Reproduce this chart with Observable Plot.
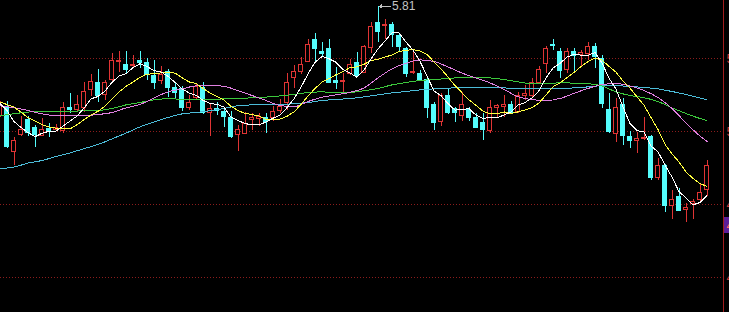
<!DOCTYPE html>
<html><head><meta charset="utf-8">
<script src="https://cdn.jsdelivr.net/npm/d3@7"></script>
<script src="https://cdn.jsdelivr.net/npm/@observablehq/plot@0.6"></script>
<style>
html,body{margin:0;padding:0;background:#000;overflow:hidden;}
#chart svg{display:block;}
</style></head><body><div id="chart"></div>
<script>
// Daily candles, index -1 (partly cut at the left edge) .. 100
const firstIndex = -1;
const open = [5.265,
  5.305,5.085,5.17,5.245,5.205,5.165,5.1975,5.195,5.19,5.305,
  5.295,5.305,5.395,5.43,5.37,5.445,5.5325,5.52,5.5125,5.54,
  5.53,5.465,5.44,5.485,5.405,5.40,5.305,5.355,5.405,5.2775,
  5.2975,5.285,5.255,5.17,5.175,5.245,5.25,5.255,5.2525,5.2875,
  5.33,5.455,5.485,5.5325,5.645,5.585,5.60,5.44,5.4325,5.475,
  5.53,5.48,5.605,5.73,5.7125,5.72,5.665,5.60,5.4775,5.475,
  5.445,5.32,5.235,5.3625,5.30,5.265,5.295,5.255,5.23,5.1875,
  5.305,5.3075,5.3175,5.285,5.365,5.365,5.43,5.525,5.62,5.585,
  5.495,5.585,5.57,5.575,5.61,5.55,5.295,5.175,5.32,5.1575,
  5.14,5.15,5.16,4.955,5.015,4.815,4.86,4.7925,4.8225,4.8425,
  4.895];
const high = [5.335,
  5.335,5.155,5.26,5.26,5.215,5.25,5.225,5.2225,5.33,5.375,
  5.365,5.43,5.47,5.495,5.44,5.575,5.585,5.585,5.565,5.585,
  5.55,5.54,5.51,5.495,5.425,5.41,5.365,5.42,5.43,5.32,
  5.33,5.305,5.285,5.215,5.28,5.275,5.275,5.275,5.31,5.345,
  5.475,5.515,5.555,5.645,5.675,5.63,5.645,5.505,5.475,5.545,
  5.58,5.615,5.73,5.81,5.745,5.73,5.675,5.605,5.59,5.49,
  5.45,5.33,5.375,5.395,5.305,5.38,5.305,5.275,5.275,5.34,
  5.32,5.365,5.335,5.38,5.415,5.45,5.51,5.61,5.645,5.60,
  5.60,5.60,5.59,5.63,5.625,5.565,5.375,5.35,5.35,5.185,
  5.18,5.255,5.165,5.05,5.02,4.89,4.90,4.825,4.845,4.92,
  5.04];
const low = [5.255,
  5.10,5.015,5.16,5.16,5.105,5.16,5.155,5.19,5.175,5.275,
  5.28,5.28,5.36,5.33,5.34,5.43,5.48,5.475,5.50,5.50,
  5.44,5.395,5.42,5.355,5.35,5.285,5.29,5.345,5.27,5.16,
  5.265,5.205,5.15,5.085,5.17,5.19,5.21,5.175,5.235,5.275,
  5.29,5.40,5.47,5.53,5.53,5.555,5.425,5.395,5.375,5.465,
  5.455,5.475,5.575,5.63,5.645,5.605,5.58,5.455,5.47,5.435,
  5.25,5.19,5.21,5.27,5.23,5.235,5.235,5.20,5.14,5.175,
  5.255,5.255,5.275,5.275,5.34,5.355,5.425,5.475,5.59,5.45,
  5.475,5.485,5.51,5.54,5.50,5.30,5.175,5.13,5.115,5.10,
  5.075,5.14,4.94,4.94,4.78,4.745,4.79,4.73,4.745,4.825,
  4.86];
const close = [5.32,
  5.11,5.14,5.195,5.18,5.17,5.195,5.1875,5.2025,5.305,5.295,
  5.32,5.385,5.435,5.365,5.43,5.54,5.5375,5.495,5.5175,5.53,
  5.47,5.43,5.4675,5.405,5.38,5.305,5.33,5.41,5.28,5.2975,
  5.2875,5.26,5.1575,5.195,5.225,5.2525,5.2575,5.235,5.285,5.31,
  5.43,5.485,5.52,5.62,5.60,5.575,5.43,5.43,5.4375,5.5175,
  5.465,5.61,5.71,5.685,5.7175,5.67,5.61,5.475,5.485,5.44,
  5.305,5.23,5.365,5.28,5.2775,5.32,5.2525,5.2025,5.195,5.305,
  5.315,5.3175,5.28,5.365,5.3725,5.43,5.495,5.60,5.6125,5.49,
  5.585,5.565,5.58,5.61,5.5575,5.325,5.185,5.305,5.165,5.14,
  5.1475,5.155,4.955,5.015,4.815,4.845,4.79,4.805,4.8325,4.8775,
  5.015];

// Moving averages read per candle (index -1 .. 100)
const ma5 = [5.325,
  5.29,5.235,5.205,5.18,5.159,5.176,5.186,5.187,5.212,5.237,
  5.262,5.302,5.348,5.36,5.387,5.431,5.462,5.474,5.504,5.524,
  5.51,5.489,5.483,5.461,5.431,5.398,5.378,5.366,5.341,5.325,
  5.321,5.307,5.257,5.24,5.225,5.218,5.218,5.233,5.251,5.268,
  5.304,5.349,5.406,5.473,5.531,5.56,5.549,5.531,5.495,5.478,
  5.456,5.492,5.548,5.598,5.638,5.679,5.679,5.632,5.592,5.536,
  5.463,5.387,5.365,5.324,5.292,5.295,5.299,5.267,5.25,5.255,
  5.254,5.267,5.283,5.317,5.33,5.353,5.389,5.453,5.502,5.526,
  5.557,5.571,5.567,5.566,5.58,5.528,5.452,5.397,5.308,5.224,
  5.189,5.183,5.113,5.083,5.018,4.957,4.884,4.854,4.818,4.83,
  4.864];
const ma10 = [5.332,
  5.32,5.307,5.282,5.254,5.237,5.22,5.207,5.202,5.202,5.198,
  5.219,5.244,5.268,5.286,5.312,5.347,5.382,5.411,5.432,5.456,
  5.471,5.475,5.478,5.482,5.477,5.454,5.433,5.425,5.401,5.378,
  5.359,5.342,5.311,5.29,5.275,5.27,5.262,5.245,5.245,5.247,
  5.261,5.283,5.32,5.362,5.4,5.432,5.449,5.469,5.484,5.505,
  5.508,5.521,5.54,5.546,5.558,5.567,5.585,5.59,5.595,5.587,
  5.571,5.533,5.498,5.458,5.414,5.379,5.343,5.316,5.287,5.273,
  5.274,5.283,5.275,5.283,5.293,5.304,5.328,5.368,5.409,5.428,
  5.455,5.48,5.51,5.534,5.553,5.542,5.511,5.482,5.437,5.402,
  5.358,5.317,5.255,5.195,5.121,5.073,5.033,4.983,4.95,4.924,
  4.911];

// Slower averages read every second candle
const maIdx = [-1,1,3,5,7,9,11,13,15,17,19,21,23,25,27,29,31,33,35,37,39,41,43,45,47,49,
  51,53,55,57,59,61,63,65,67,69,71,73,75,77,79,81,83,85,87,89,91,93,95,97,99,100];
const ma20 = [5.313,5.304,5.29,5.273,5.265,5.265,5.265,5.27,5.28,5.303,5.32,5.353,5.383,5.398,5.413,5.415,
  5.411,5.389,5.365,5.34,5.315,5.309,5.335,5.356,5.368,5.381,5.403,5.453,5.498,5.526,5.543,5.535,
  5.508,5.477,5.453,5.428,5.395,5.359,5.344,5.34,5.35,5.376,5.40,5.42,5.425,5.413,5.39,5.355,
  5.30,5.228,5.162,5.135];
const ma30 = [5.263,5.274,5.282,5.287,5.287,5.287,5.288,5.29,5.30,5.318,5.33,5.343,5.349,5.346,5.345,5.345,
  5.348,5.349,5.354,5.357,5.363,5.37,5.38,5.383,5.379,5.38,5.389,5.40,5.418,5.43,5.44,5.445,
  5.45,5.455,5.456,5.453,5.445,5.433,5.424,5.425,5.428,5.427,5.424,5.413,5.383,5.365,5.354,5.335,
  5.303,5.275,5.25,5.24];
const ma60 = [5.00,5.007,5.027,5.04,5.06,5.078,5.099,5.12,5.148,5.177,5.208,5.233,5.255,5.273,5.28,5.289,
  5.30,5.314,5.318,5.319,5.32,5.324,5.33,5.34,5.345,5.35,5.358,5.368,5.378,5.385,5.393,5.398,
  5.402,5.404,5.406,5.405,5.403,5.399,5.399,5.399,5.399,5.403,5.408,5.414,5.414,5.41,5.405,5.398,
  5.385,5.37,5.353,5.344];

// Price axis
const gridPrices = [5.55, 5.185, 4.82, 4.455];
const gridLabels = ["5.55", "5.19", "4.82", "4.46"];
const peak = [{i: 53, price: 5.81, label: "5.81"}];
const lastMark = [{price: 4.715, label: "4.72"}];

const UP = "#e03434", DOWN = "#54fcfc";
const xMin = -6.5 / 7, xMax = 716.5 / 7, bw = 2 / 7;

const candles = open.map((o, k) => ({i: k + firstIndex, open: o, high: high[k], low: low[k], close: close[k]}));
const ups = candles.filter(d => d.close >= d.open);
const downs = candles.filter(d => d.close < d.open);
const perCandle = arr => arr.map((v, k) => ({i: k + firstIndex, v}));
const sampled = arr => arr.map((v, k) => ({i: maIdx[k], v}));
const labelOf = new Map(gridPrices.map((p, k) => [p, gridLabels[k]]));

const chart = Plot.plot({
  width: 729, height: 312,
  marginLeft: 0, marginRight: 6, marginTop: 0, marginBottom: 0,
  style: "background:#000;color:#cc3a3a;font-family:'Liberation Sans',Arial,sans-serif;font-size:13px;shape-rendering:crispEdges;overflow:hidden;",
  x: {type: "linear", domain: [xMin, xMax], axis: null},
  y: {type: "linear", domain: [4.28, 5.84], axis: "right", ticks: gridPrices, tickSize: 0, tickPadding: 3,
      tickFormat: d => labelOf.get(d), label: null},
  marks: [
    Plot.ruleY(gridPrices, {stroke: "#8c1c1c", strokeDasharray: "1,2"}),
    Plot.ruleX(downs, {x: "i", y1: "low", y2: "high", stroke: DOWN}),
    Plot.rect(downs, {x1: d => d.i - bw, x2: d => d.i + bw, y1: "open", y2: "close", fill: DOWN, stroke: DOWN}),
    Plot.ruleX(ups, {x: "i", y1: "low", y2: "high", stroke: UP}),
    Plot.rect(ups, {x1: d => d.i - bw, x2: d => d.i + bw, y1: "open", y2: "close", fill: "#000", stroke: UP}),
    Plot.line(sampled(ma60), {x: "i", y: "v", stroke: "#4cbcd8", strokeWidth: 1, curve: "monotone-x"}),
    Plot.line(sampled(ma30), {x: "i", y: "v", stroke: "#3cc83c", strokeWidth: 1, curve: "monotone-x"}),
    Plot.line(sampled(ma20), {x: "i", y: "v", stroke: "#e080e0", strokeWidth: 1, curve: "monotone-x"}),
    Plot.line(perCandle(ma10), {x: "i", y: "v", stroke: "#ffff40", strokeWidth: 1}),
    Plot.line(perCandle(ma5), {x: "i", y: "v", stroke: "#ffffff", strokeWidth: 1}),
    Plot.ruleX([xMax], {stroke: "#a01c1c"}),
    Plot.rect(lastMark, {x1: xMax + 0.1, x2: xMax + 1.2, y1: d => d.price - 0.04, y2: d => d.price + 0.04, fill: "#5c1e98"}),
    Plot.text(lastMark, {x: xMax, y: "price", text: "label", textAnchor: "start", dx: 3, fill: "#ff6a6a", fontSize: 13}),
    Plot.arrow(peak, {x1: d => d.i + 1.8, x2: d => d.i + 0.15, y1: "price", y2: "price", stroke: "#c0c0c0", headLength: 5, strokeWidth: 1}),
    Plot.text(peak, {x: "i", y: "price", text: "label", textAnchor: "start", dx: 14, fill: "#c4c4c4", fontSize: 12})
  ]
});
document.getElementById("chart").appendChild(chart);
</script>
</body></html>
